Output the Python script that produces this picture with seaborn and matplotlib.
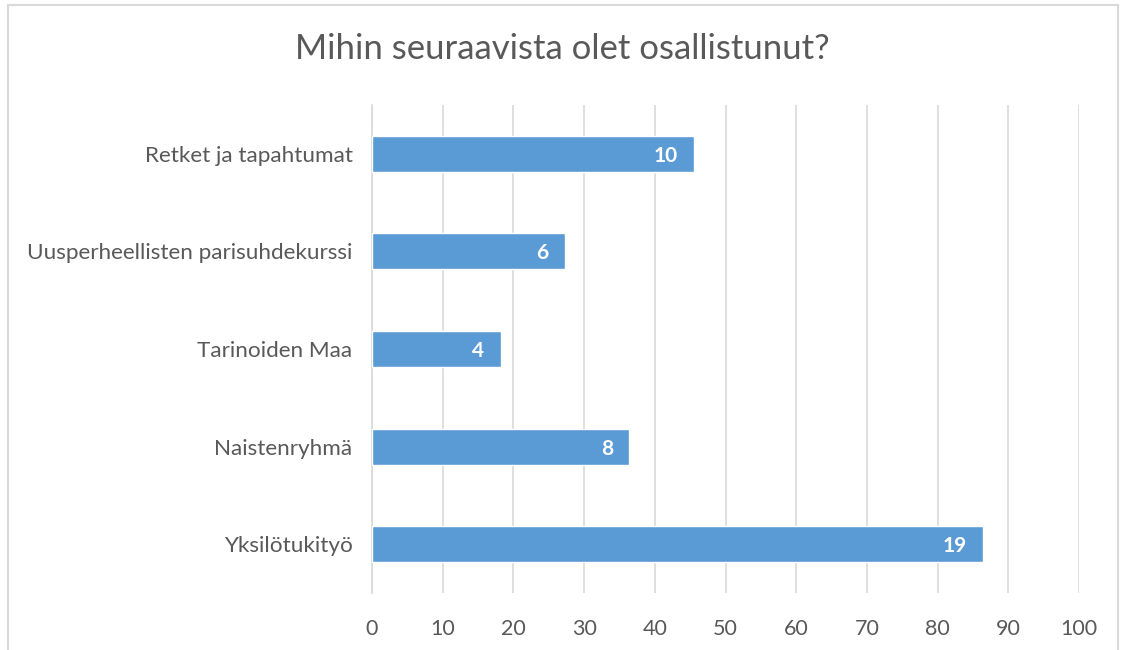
import matplotlib
matplotlib.use("Agg")
import matplotlib.pyplot as plt
import seaborn as sns
import pandas as pd

# answers (count of respondents) and share of respondents in %
categories = ["Retket ja tapahtumat", "Uusperheellisten parisuhdekurssi",
              "Tarinoiden Maa", "Naistenryhmä", "Yksilötukityö"]
counts = [10, 6, 4, 8, 19]
percent = [45.5, 27.3, 18.2, 36.4, 86.4]
x_ticks = [0, 10, 20, 30, 40, 50, 60, 70, 80, 90, 100]

df = pd.DataFrame({"Category": categories, "Percent": percent, "Count": counts})

sns.set_style("white")
plt.rcParams["font.family"] = ["Lato", "DejaVu Sans"]
text_col = "#595959"

fig = plt.figure(figsize=(11.25, 6.5), dpi=100)
ax = fig.add_axes([0.3307, 0.0877, 0.6284, 0.7508])

sns.barplot(data=df, y="Category", x="Percent", color="#5b9bd5",
            width=0.37, saturation=1, ax=ax, zorder=3)

ax.set_xlim(0, 100)
ax.set_xticks(x_ticks)
ax.set_ylim(4.5, -0.5)
ax.grid(axis="x", color="#d9d9d9", linewidth=1.2, zorder=0)
ax.set_axisbelow(True)
for s in ["top", "right", "bottom"]:
    ax.spines[s].set_visible(False)
ax.spines["left"].set_color("#d9d9d9")
ax.spines["left"].set_linewidth(1.2)
ax.tick_params(axis="x", length=0, labelsize=15.5, colors=text_col, pad=19)
ax.tick_params(axis="y", length=0, labelsize=16.2, colors=text_col, pad=14)
ax.set_xlabel("")
ax.set_ylabel("")

# count labels inside the bar ends
for i, (p, c) in enumerate(zip(percent, counts)):
    ax.text(p - 2.3, i + 0.02, str(c), ha="right", va="center", color="white",
            fontsize=15, fontweight="bold")

fig.text(0.5, 0.925, "Mihin seuraavista olet osallistunut?", ha="center",
         va="center", fontsize=25, color=text_col)

# light chart frame
frame = plt.Rectangle((8 / 1125, -0.02), 1110 / 1125, 1 - 5 / 650 + 0.02,
                      transform=fig.transFigure, fill=False,
                      edgecolor="#d9d9d9", linewidth=1.5)
fig.patches.append(frame)

fig.savefig("out.png", dpi=100)
